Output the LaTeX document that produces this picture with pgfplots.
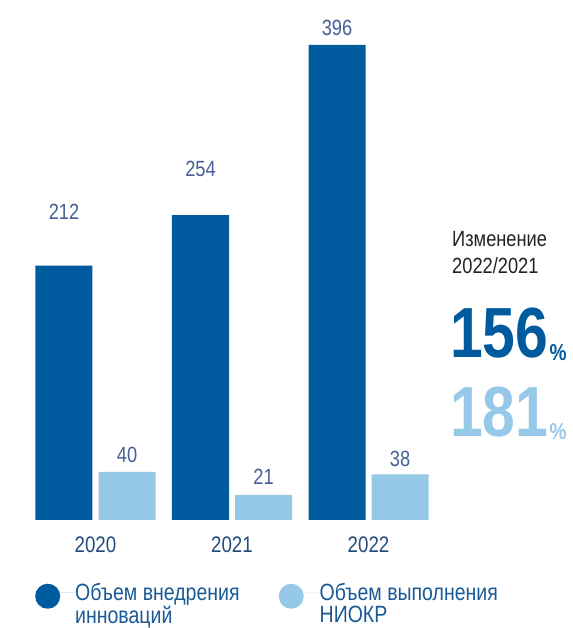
\documentclass[border=0pt]{standalone}
\usepackage{fontspec}
\setmainfont{Liberation Sans}[FakeStretch=0.83]
\usepackage{pgfplots}
\pgfplotsset{compat=1.18}
\definecolor{dk}{RGB}{0,90,158}
\definecolor{lt}{RGB}{150,200,232}
\definecolor{vlab}{RGB}{70,95,150}
\definecolor{ylab}{RGB}{35,75,125}
\definecolor{leg}{RGB}{25,90,150}
\definecolor{txt}{RGB}{35,35,35}
\begin{document}
\begin{tikzpicture}
\begin{axis}[
  scale only axis, width=572pt, height=520pt,
  xmin=-0.6996, xmax=3.4908, ymin=0, ymax=433.333,
  clip=false,
  axis line style={draw=none}, major tick length=0pt,
  ytick=\empty,
  xtick={0,1,2}, xticklabels={2020,2021,2022},
  /pgf/number format/assume math mode=true,
  xticklabel style={anchor=base, yshift=-32pt, font=\fontsize{22.5}{24}\selectfont, text=ylab},
  legend columns=2,
  legend cell align=left,
  legend style={draw=none, fill=none, inner sep=0pt, column sep=0pt,
    at={(0.0612,-0.1205)}, anchor=north west,
    nodes={inner sep=0pt, text=leg, font=\fontsize{23.5}{22}\selectfont}},
]
\addplot[ybar, fill=dk, draw=none, bar width=0.4176, bar shift=-0.2308,
  legend image code/.code={\fill[dk] (12.5pt,-4pt) circle[radius=12.5pt]; \path (0pt,0pt) -- (40pt,0pt);}]
  coordinates {(0,212) (1,254) (2,396)};
\addlegendentry{\parbox[t]{203.5pt}{\fontsize{23.5}{22}\selectfont Объем внедрения\\инноваций}}
\addplot[ybar, fill=lt, draw=none, bar width=0.4176, bar shift=0.2308,
  legend image code/.code={\fill[lt] (12.5pt,-4pt) circle[radius=12.5pt]; \path (0pt,0pt) -- (41pt,0pt);}]
  coordinates {(0,40) (1,21) (2,38)};
\addlegendentry{\parbox[t]{200pt}{\fontsize{23.5}{22}\selectfont Объем выполнения\\НИОКР}}
% value labels
\begin{scope}[every node/.style={anchor=base, text=vlab, font=\fontsize{22}{24}\selectfont, inner sep=0pt}]
\node at (axis cs:-0.2308,250) {212};
\node at (axis cs:0.7692,285.83) {254};
\node at (axis cs:1.7692,403.33) {396};
\node at (axis cs:0.2308,47.5) {40};
\node at (axis cs:1.2308,29.17) {21};
\node at (axis cs:2.2308,44.17) {38};
\end{scope}
% change block
\node[anchor=base west, inner sep=0pt, text=txt, font=\fontsize{22}{24}\selectfont] at (axis cs:2.6117,227.5) {Изменение};
\node[anchor=base west, inner sep=0pt, text=txt, font=\fontsize{22}{24}\selectfont] at (axis cs:2.6117,205) {2022/2021};
\node[anchor=base west, inner sep=0pt, text=dk] at (axis cs:2.597,135) {\fontsize{71}{71}\selectfont\bfseries 156\hspace{1pt}\raisebox{-3pt}{\fontsize{23}{23}\selectfont\%}};
\node[anchor=base west, inner sep=0pt, text=lt] at (axis cs:2.597,69.17) {\fontsize{71}{71}\selectfont\bfseries 181\hspace{1pt}\raisebox{-3pt}{\fontsize{23}{23}\selectfont\%}};
\end{axis}
\pgfresetboundingbox
\path (0pt,-108pt) rectangle (572pt,520pt);
\end{tikzpicture}
\end{document}
